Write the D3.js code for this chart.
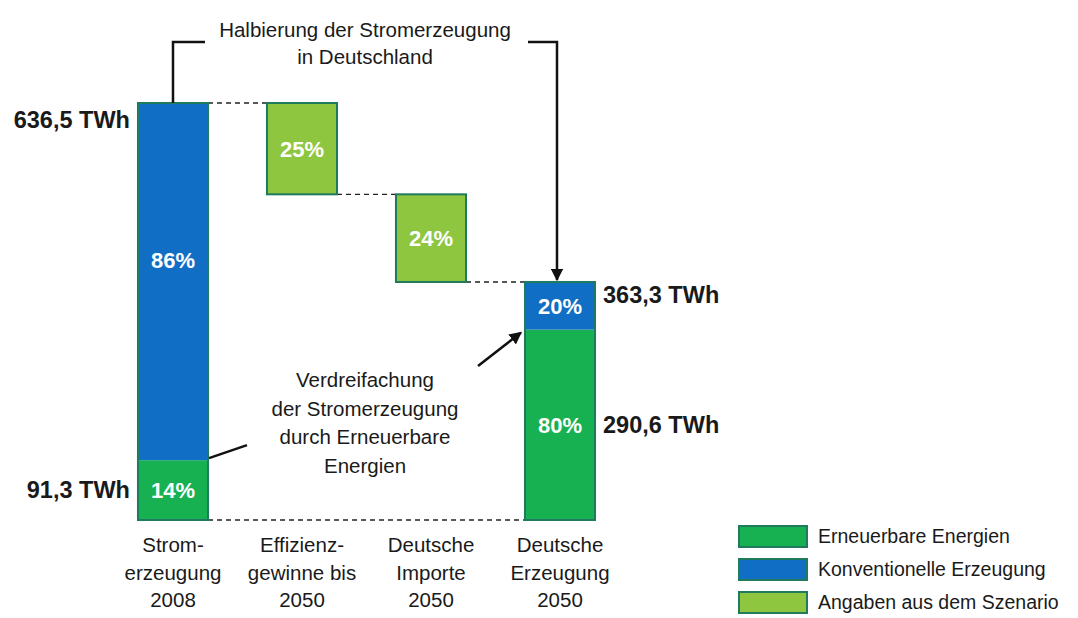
<!DOCTYPE html>
<html lang="de">
<head>
<meta charset="utf-8">
<script src="https://cdn.jsdelivr.net/npm/d3@7/dist/d3.min.js"></script>
<style>
  html, body { margin: 0; padding: 0; background: #ffffff; }
  svg { display: block; font-family: "Liberation Sans", Arial, sans-serif; }
</style>
</head>
<body>
<svg id="chart" width="1078" height="618"></svg>
<script>
// Category labels (multi-line) for the four columns
const categories = ["s2008", "eff", "imp", "s2050"];
const categoryLines = [
  ["Strom-", "erzeugung", "2008"],
  ["Effizienz-", "gewinne bis", "2050"],
  ["Deutsche", "Importe", "2050"],
  ["Deutsche", "Erzeugung", "2050"]
];

// Electricity generation in TWh
const total2008 = 636.5;
const renewable2008 = 91.3;
const total2050 = 363.3;
const renewable2050 = 290.6;

// Waterfall steps between 2008 and 2050 (TWh reduction each)
const stepValues = [139.4, 133.8];
const stepLabels = ["25%", "24%"];

// Share labels
const shares2008 = ["14%", "86%"];
const shares2050 = ["80%", "20%"];

// Value labels
const valueLabels = ["636,5 TWh", "91,3 TWh", "363,3 TWh", "290,6 TWh"];

// Legend
const legendItems = ["Erneuerbare Energien", "Konventionelle Erzeugung", "Angaben aus dem Szenario"];

const colors = {
  renew: "#17b151",
  conv: "#106ec4",
  scen: "#8ec63f",
  outline: "#1f7a5e",
  text: "#1a1a1a"
};

const svg = d3.select("#chart");

const x = d3.scaleBand()
  .domain(categories)
  .range([108.5, 624.5])
  .paddingInner(0.457)
  .paddingOuter(0.2285);

const y = d3.scaleLinear()
  .domain([0, total2008])
  .range([520, 103]);

const bw = x.bandwidth();

// Build segments; labelPos = relative height of the label inside the segment
const segments = [];
segments.push({ cat: "s2008", y0: 0, y1: renewable2008, color: colors.renew, label: shares2008[0], labelPos: 0.5 });
segments.push({ cat: "s2008", y0: renewable2008, y1: total2008, color: colors.conv, label: shares2008[1], labelPos: 0.56 });
let level = total2008;
const stepCats = ["eff", "imp"];
const steps = [];
stepValues.forEach((v, i) => {
  const seg = { cat: stepCats[i], y0: level - v, y1: level, color: colors.scen, label: stepLabels[i], labelPos: 0.5 };
  segments.push(seg);
  steps.push(seg);
  level -= v;
});
segments.push({ cat: "s2050", y0: 0, y1: renewable2050, color: colors.renew, label: shares2050[0], labelPos: 0.5 });
segments.push({ cat: "s2050", y0: renewable2050, y1: total2050, color: colors.conv, label: shares2050[1], labelPos: 0.5 });

// Outline boxes per column
const columns = [
  { cat: "s2008", y0: 0, y1: total2008 },
  { cat: "eff", y0: steps[0].y0, y1: steps[0].y1 },
  { cat: "imp", y0: steps[1].y0, y1: steps[1].y1 },
  { cat: "s2050", y0: 0, y1: total2050 }
];

// Dashed connectors
const dash = svg.append("g")
  .attr("stroke", "#222")
  .attr("stroke-width", 1.4)
  .attr("stroke-dasharray", "5,4");
const connectors = [
  { from: "s2008", to: "eff", v: total2008 },
  { from: "eff", to: "imp", v: steps[0].y0 },
  { from: "imp", to: "s2050", v: steps[1].y0 },
  { from: "s2008", to: "s2050", v: 0 }
];
dash.selectAll("line").data(connectors).join("line")
  .attr("x1", d => x(d.from) + bw)
  .attr("x2", d => x(d.to))
  .attr("y1", d => y(d.v))
  .attr("y2", d => y(d.v));

// Bar segments
svg.append("g").selectAll("rect").data(segments).join("rect")
  .attr("x", d => x(d.cat))
  .attr("width", bw)
  .attr("y", d => y(d.y1))
  .attr("height", d => y(d.y0) - y(d.y1))
  .attr("fill", d => d.color);

svg.append("g").selectAll("rect").data(columns).join("rect")
  .attr("x", d => x(d.cat))
  .attr("width", bw)
  .attr("y", d => y(d.y1))
  .attr("height", d => y(d.y0) - y(d.y1))
  .attr("fill", "none")
  .attr("stroke", colors.outline)
  .attr("stroke-width", 2);

// Share labels inside bars
svg.append("g").selectAll("text").data(segments).join("text")
  .attr("x", d => x(d.cat) + bw / 2)
  .attr("y", d => y(d.y0 + (d.y1 - d.y0) * d.labelPos) + 8)
  .attr("text-anchor", "middle")
  .attr("fill", "#ffffff")
  .attr("font-weight", "bold")
  .attr("font-size", 22)
  .text(d => d.label);

// TWh value labels
const vl = svg.append("g")
  .attr("font-weight", "bold")
  .attr("font-size", 23.5)
  .attr("fill", colors.text);
vl.append("text")
  .attr("x", x("s2008") - 8).attr("y", y(total2008) + 25)
  .attr("text-anchor", "end").text(valueLabels[0]);
vl.append("text")
  .attr("x", x("s2008") - 8).attr("y", y(renewable2008 / 2) + 8)
  .attr("text-anchor", "end").text(valueLabels[1]);
vl.append("text")
  .attr("x", x("s2050") + bw + 8).attr("y", y(total2050) + 21)
  .attr("text-anchor", "start").text(valueLabels[2]);
vl.append("text")
  .attr("x", x("s2050") + bw + 8).attr("y", y(renewable2050 / 2) + 8)
  .attr("text-anchor", "start").text(valueLabels[3]);

// Category labels
const cl = svg.append("g")
  .attr("font-size", 20.5)
  .attr("fill", colors.text)
  .attr("text-anchor", "middle");
categories.forEach((c, i) => {
  const t = cl.append("text").attr("x", x(c) + bw / 2).attr("y", 552);
  categoryLines[i].forEach((line, j) => {
    t.append("tspan").attr("x", x(c) + bw / 2).attr("dy", j === 0 ? 0 : 27.5).text(line);
  });
});

// Arrow marker
svg.append("defs").append("marker")
  .attr("id", "arrow")
  .attr("viewBox", "0 0 10 10")
  .attr("refX", 9).attr("refY", 5)
  .attr("markerWidth", 5).attr("markerHeight", 5)
  .attr("markerUnits", "strokeWidth")
  .attr("orient", "auto")
  .append("path").attr("d", "M0,0 L10,5 L0,10 Z").attr("fill", "#111");

// Bracket: halving of generation
const leftX = x("s2008") + bw / 2;
const rightX = x("s2050") + bw / 2 - 3;
svg.append("path")
  .attr("d", `M${leftX},${y(total2008)} V42 H205`)
  .attr("fill", "none").attr("stroke", "#111").attr("stroke-width", 2.5);
svg.append("path")
  .attr("d", `M528,42 H${rightX} V${y(total2050) - 2}`)
  .attr("fill", "none").attr("stroke", "#111").attr("stroke-width", 2.5)
  .attr("marker-end", "url(#arrow)");

const title = svg.append("text")
  .attr("font-size", 20.5).attr("fill", colors.text).attr("text-anchor", "middle");
title.append("tspan").attr("x", 365).attr("y", 37).text("Halbierung der Stromerzeugung");
title.append("tspan").attr("x", 365).attr("y", 64).text("in Deutschland");

// Annotation: tripling of renewable generation
const note = svg.append("text")
  .attr("font-size", 20.5).attr("fill", colors.text).attr("text-anchor", "middle");
["Verdreifachung", "der Stromerzeugung", "durch Erneuerbare", "Energien"].forEach((line, j) => {
  note.append("tspan").attr("x", 365).attr("y", 387 + j * 28.5).text(line);
});
svg.append("line")
  .attr("x1", x("s2008") + bw + 1).attr("y1", y(renewable2008) - 2)
  .attr("x2", 247).attr("y2", y(renewable2008) - 15)
  .attr("stroke", "#111").attr("stroke-width", 2.5);
svg.append("line")
  .attr("x1", 478).attr("y1", 366)
  .attr("x2", x("s2050") - 4).attr("y2", y(renewable2050) + 3)
  .attr("stroke", "#111").attr("stroke-width", 2.5)
  .attr("marker-end", "url(#arrow)");

// Legend
const legendColors = [colors.renew, colors.conv, colors.scen];
const lg = svg.append("g");
legendItems.forEach((item, i) => {
  const cy = 536 + i * 33;
  lg.append("rect")
    .attr("x", 739).attr("y", cy - 10).attr("width", 68).attr("height", 21)
    .attr("fill", legendColors[i]).attr("stroke", colors.outline).attr("stroke-width", 2);
  lg.append("text")
    .attr("x", 818).attr("y", cy + 7)
    .attr("font-size", 19.5).attr("fill", colors.text)
    .text(item);
});
</script>
</body>
</html>
